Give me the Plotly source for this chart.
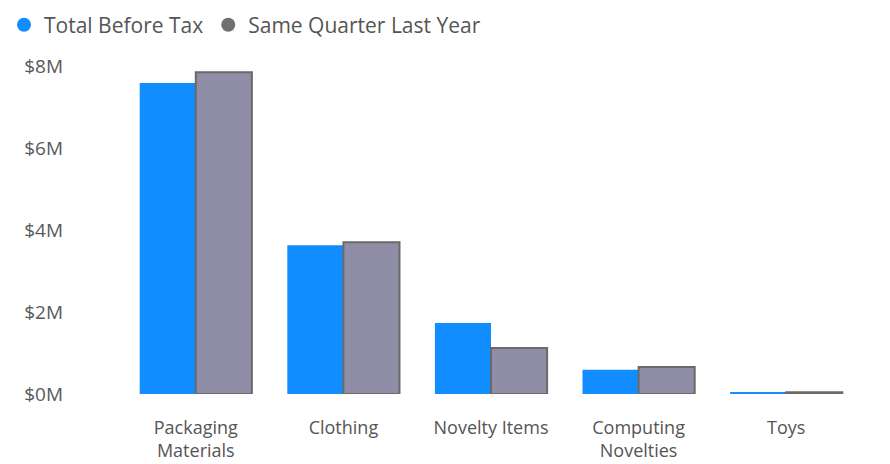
import plotly.graph_objects as go

categories = ["Packaging<br>Materials", "Clothing", "Novelty Items", "Computing<br>Novelties", "Toys"]
total_before_tax = [7.59e6, 3.63e6, 1.73e6, 0.59e6, 0.05e6]
same_quarter_last_year = [7.85e6, 3.70e6, 1.12e6, 0.66e6, 0.04e6]
tick_vals = [0, 2e6, 4e6, 6e6, 8e6]
tick_text = ["$0M", "$2M", "$4M", "$6M", "$8M"]

BLUE = "#118DFF"
GRAY = "#8F8EA6"
FONT = "Open Sans"

fig = go.Figure()
fig.add_trace(go.Bar(x=categories, y=total_before_tax, name="Total Before Tax",
                     marker=dict(color=BLUE, line=dict(width=0)), showlegend=False))
fig.add_trace(go.Bar(x=categories, y=same_quarter_last_year, name="Same Quarter Last Year",
                     marker=dict(color=GRAY, line=dict(color="#6A6A6A", width=2)), showlegend=False))
# legend entries with circle markers
fig.add_trace(go.Scatter(x=[None], y=[None], mode="markers", name="Total Before Tax",
                         marker=dict(color=BLUE, size=14, symbol="circle")))
fig.add_trace(go.Scatter(x=[None], y=[None], mode="markers", name="Same Quarter Last Year",
                         marker=dict(color="#707070", size=14, symbol="circle")))

fig.update_layout(
    width=890, height=464,
    margin=dict(l=122, r=30, t=60, b=70),
    paper_bgcolor="white", plot_bgcolor="white",
    barmode="group", bargap=0.24, bargroupgap=0,
    font=dict(family=FONT, color="#555555"),
    legend=dict(orientation="h", xref="container", yref="container", x=4 / 890, y=0.946,
                xanchor="left", yanchor="middle", font=dict(size=21, color="#555555"),
                itemwidth=30, tracegroupgap=0, bgcolor="rgba(0,0,0,0)"),
    xaxis=dict(showgrid=False, showline=False, zeroline=False, ticks="", automargin=False,
               ticklabelstandoff=21,
               tickfont=dict(size=18, color="#555555"), fixedrange=True),
    yaxis=dict(showgrid=False, showline=False, zeroline=False, range=[0, 8.15e6], automargin=False,
               tickvals=tick_vals, ticktext=tick_text, ticks="", ticklabelstandoff=58,
               tickfont=dict(size=19, color="#5A5A5A")),
)

fig.write_html("out.html", config={"displayModeBar": False},
               post_script="document.body.style.margin='0';")
